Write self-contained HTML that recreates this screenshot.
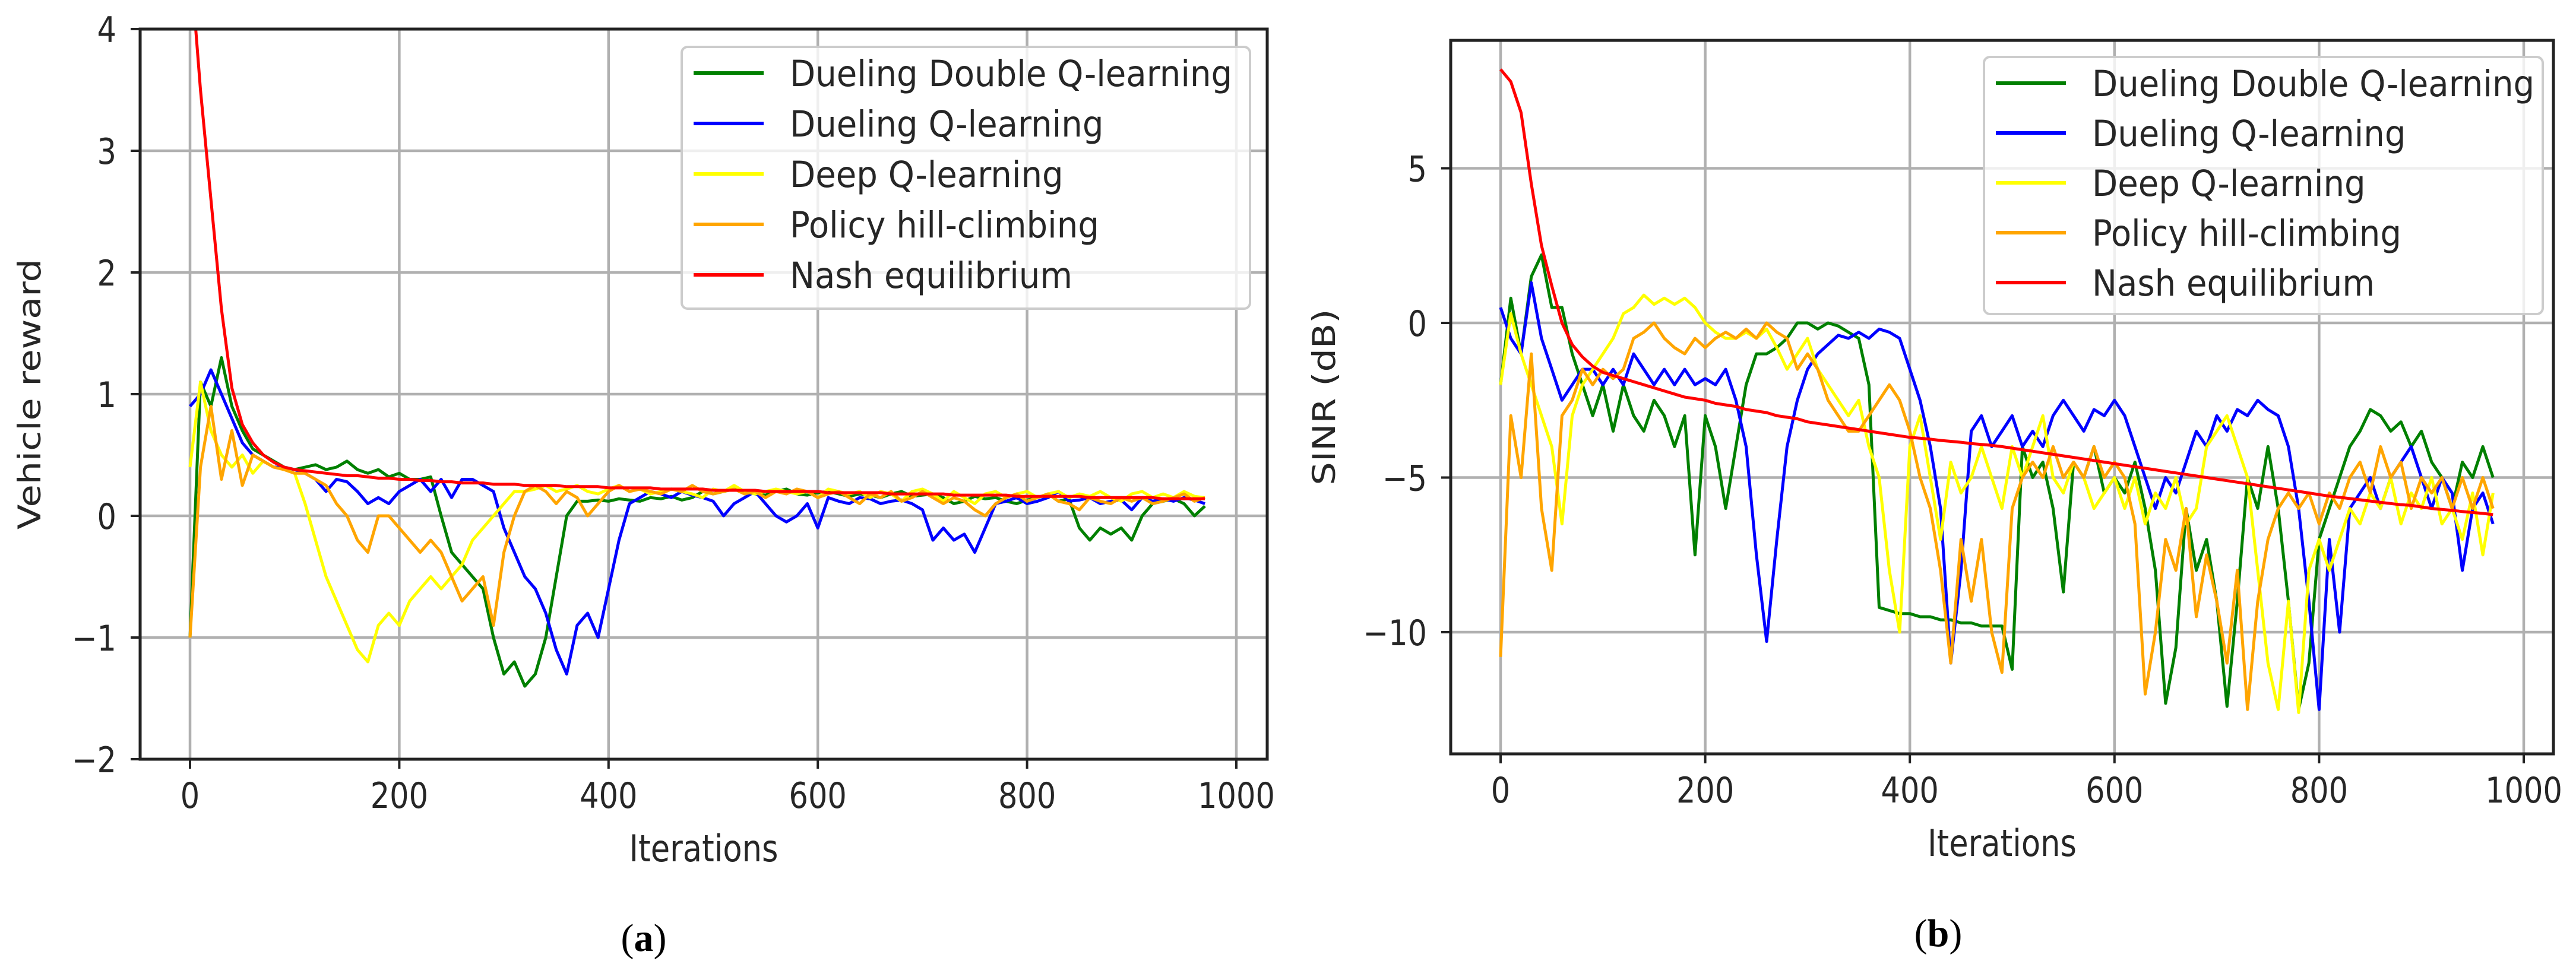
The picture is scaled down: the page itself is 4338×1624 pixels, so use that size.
<!DOCTYPE html>
<html><head><meta charset="utf-8"><style>
html,body{margin:0;padding:0;background:#fff}
svg{display:block}
text{font-family:"DejaVu Sans","Liberation Sans",sans-serif;fill:#262626}
</style></head><body>
<svg id="fig" width="4338" height="1624" viewBox="0 0 4338 1624" xmlns="http://www.w3.org/2000/svg">
<text x="1084" y="1602" text-anchor="middle" style="font-family:'Liberation Serif',serif;font-size:66px;fill:#000">(<tspan font-weight="bold">a</tspan>)</text>
<text x="3264" y="1594" text-anchor="middle" style="font-family:'Liberation Serif',serif;font-size:66px;fill:#000">(<tspan font-weight="bold">b</tspan>)</text>
</svg>
<script>
const iterations = [];
for (let i = 0; i < 98; i++) iterations.push(i * 10);
const seriesNames = ["Dueling Double Q-learning","Dueling Q-learning","Deep Q-learning","Policy hill-climbing","Nash equilibrium"];
const leftYTicks = [-2,-1,0,1,2,3,4];
const rightYTicks = [-10,-5,0,5];
const xTicks = [0,200,400,600,800,1000];

// Chart (a): Vehicle reward
const rewardDDQ = [-1.0,1.1,0.9,1.3,0.9,0.7,0.55,0.5,0.45,0.4,0.38,0.4,0.42,0.38,0.4,0.45,0.38,0.35,0.38,0.32,0.35,0.3,0.3,0.32,0.0,-0.3,-0.4,-0.5,-0.6,-1.0,-1.3,-1.2,-1.4,-1.3,-1.0,-0.5,0.0,0.12,0.12,0.13,0.12,0.14,0.13,0.12,0.15,0.14,0.16,0.13,0.15,0.2,0.18,0.2,0.22,0.2,0.18,0.17,0.2,0.22,0.18,0.17,0.19,0.2,0.18,0.16,0.18,0.17,0.15,0.18,0.2,0.16,0.17,0.18,0.15,0.1,0.12,0.16,0.14,0.15,0.12,0.1,0.13,0.15,0.18,0.12,0.14,-0.1,-0.2,-0.1,-0.15,-0.1,-0.2,0.0,0.1,0.12,0.14,0.1,0.0,0.08];
const rewardDQ = [0.9,1.0,1.2,1.0,0.8,0.6,0.5,0.45,0.4,0.4,0.38,0.35,0.3,0.2,0.3,0.28,0.2,0.1,0.15,0.1,0.2,0.25,0.3,0.2,0.3,0.15,0.3,0.3,0.25,0.2,-0.1,-0.3,-0.5,-0.6,-0.8,-1.1,-1.3,-0.9,-0.8,-1.0,-0.6,-0.2,0.1,0.15,0.2,0.18,0.15,0.2,0.17,0.15,0.12,0.0,0.1,0.15,0.2,0.1,0.0,-0.05,0.0,0.1,-0.1,0.15,0.12,0.1,0.15,0.14,0.1,0.12,0.13,0.1,0.05,-0.2,-0.1,-0.2,-0.15,-0.3,-0.1,0.1,0.12,0.15,0.1,0.12,0.15,0.2,0.12,0.13,0.15,0.1,0.12,0.13,0.05,0.15,0.12,0.14,0.12,0.15,0.13,0.1];
const rewardDQL = [0.4,1.1,0.7,0.5,0.4,0.5,0.35,0.45,0.4,0.38,0.35,0.1,-0.2,-0.5,-0.7,-0.9,-1.1,-1.2,-0.9,-0.8,-0.9,-0.7,-0.6,-0.5,-0.6,-0.5,-0.4,-0.2,-0.1,0.0,0.1,0.2,0.2,0.22,0.25,0.2,0.22,0.25,0.2,0.18,0.22,0.25,0.2,0.22,0.18,0.2,0.22,0.2,0.18,0.15,0.22,0.2,0.25,0.2,0.18,0.2,0.22,0.2,0.18,0.2,0.15,0.22,0.2,0.18,0.2,0.15,0.2,0.18,0.12,0.2,0.22,0.18,0.12,0.2,0.15,0.1,0.18,0.2,0.15,0.18,0.2,0.15,0.18,0.2,0.15,0.18,0.16,0.2,0.15,0.12,0.18,0.2,0.15,0.18,0.15,0.2,0.16,0.15];
const rewardPHC = [-1.0,0.4,0.9,0.3,0.7,0.25,0.5,0.45,0.4,0.38,0.35,0.35,0.3,0.25,0.1,0.0,-0.2,-0.3,0.0,0.0,-0.1,-0.2,-0.3,-0.2,-0.3,-0.5,-0.7,-0.6,-0.5,-0.9,-0.3,0.0,0.2,0.25,0.2,0.1,0.2,0.15,0.0,0.1,0.2,0.25,0.2,0.22,0.2,0.18,0.22,0.2,0.25,0.2,0.18,0.2,0.22,0.18,0.2,0.15,0.2,0.18,0.22,0.2,0.15,0.18,0.2,0.15,0.1,0.18,0.15,0.2,0.12,0.15,0.2,0.15,0.1,0.15,0.12,0.05,0.0,0.1,0.15,0.18,0.12,0.15,0.18,0.12,0.1,0.05,0.15,0.12,0.1,0.15,0.12,0.15,0.1,0.12,0.15,0.18,0.12,0.15];
const rewardNash = [4.6,3.5,2.6,1.7,1.05,0.75,0.6,0.5,0.44,0.4,0.38,0.37,0.36,0.35,0.34,0.33,0.33,0.32,0.31,0.31,0.3,0.3,0.29,0.29,0.28,0.28,0.27,0.27,0.27,0.26,0.26,0.26,0.25,0.25,0.25,0.25,0.24,0.24,0.24,0.24,0.23,0.23,0.23,0.23,0.23,0.22,0.22,0.22,0.22,0.22,0.21,0.21,0.21,0.21,0.21,0.2,0.2,0.2,0.2,0.2,0.2,0.19,0.19,0.19,0.19,0.19,0.19,0.18,0.18,0.18,0.18,0.18,0.18,0.17,0.17,0.17,0.17,0.17,0.17,0.16,0.16,0.16,0.16,0.16,0.16,0.16,0.15,0.15,0.15,0.15,0.15,0.15,0.15,0.14,0.14,0.14,0.14,0.14];

// Chart (b): SINR (dB)
const sinrDDQ = [-2,0.8,-1,1.5,2.2,0.5,0.5,-1,-2,-3,-2,-3.5,-2,-3,-3.5,-2.5,-3,-4,-3,-7.5,-3,-4,-6,-4,-2,-1,-1,-0.8,-0.5,0,0,-0.2,0,-0.1,-0.3,-0.5,-2,-9.2,-9.3,-9.4,-9.4,-9.5,-9.5,-9.6,-9.6,-9.7,-9.7,-9.8,-9.8,-9.8,-11.2,-4,-5,-4.5,-6,-8.7,-4.5,-5,-4,-5.5,-5,-5.5,-4.5,-6,-8,-12.3,-10.5,-6,-8,-7,-9,-12.4,-9,-5,-6,-4,-6,-9,-12.5,-11,-7,-6,-5,-4,-3.5,-2.8,-3,-3.5,-3.2,-4,-3.5,-4.5,-5,-6,-4.5,-5,-4,-5];
const sinrDQ = [0.5,-0.5,-1,1.3,-0.5,-1.5,-2.5,-2,-1.5,-1.5,-2,-1.5,-2,-1,-1.5,-2,-1.5,-2,-1.5,-2,-1.8,-2,-1.5,-2.5,-4,-7.5,-10.3,-7,-4,-2.5,-1.5,-1,-0.7,-0.4,-0.5,-0.3,-0.5,-0.2,-0.3,-0.5,-1.5,-2.5,-4,-6,-11,-8,-3.5,-3,-4,-3.5,-3,-4,-3.5,-4,-3,-2.5,-3,-3.5,-2.8,-3,-2.5,-3,-4,-5,-6,-5,-5.5,-4.5,-3.5,-4,-3,-3.5,-2.8,-3,-2.5,-2.8,-3,-4,-6,-9,-12.5,-7,-10,-6,-5.5,-5,-6,-5,-4.5,-4,-5,-6,-5,-5.5,-8,-6,-5.5,-6.5];
const sinrDQL = [-2,0.3,-1,-2,-3,-4,-6.5,-3,-2,-1.5,-1,-0.5,0.3,0.5,0.9,0.6,0.8,0.6,0.8,0.5,0,-0.3,-0.5,-0.5,-0.3,-0.5,-0.2,-0.8,-1.5,-1,-0.5,-1.5,-2,-2.5,-3,-2.5,-4,-5,-8,-10,-4,-3,-5,-7,-4.5,-5.5,-5,-4,-5,-6,-4,-5,-4,-3,-5,-5.5,-4.5,-5,-6,-5.5,-5,-6,-5,-6.5,-5.5,-6,-5,-6.5,-6,-4,-3.5,-3,-4,-5,-8,-11,-12.5,-9,-12.6,-8,-7,-8,-7,-6,-6.5,-5.5,-6,-5,-6.5,-5.5,-6,-5,-6.5,-6,-7,-5.5,-7.5,-5.5];
const sinrPHC = [-10.8,-3,-5,-1,-6,-8,-3,-2.5,-1.5,-2,-1.5,-1.8,-1.5,-0.5,-0.3,0,-0.5,-0.8,-1,-0.5,-0.8,-0.5,-0.3,-0.5,-0.2,-0.5,0,-0.3,-0.5,-1.5,-1,-1.5,-2.5,-3,-3.5,-3.5,-3,-2.5,-2,-2.5,-3.5,-5,-6,-8,-11,-7,-9,-7,-10,-11.3,-6,-5,-4.5,-5,-4,-5,-4.5,-5,-4,-5,-4.5,-5,-6.5,-12,-10,-7,-8,-6,-9.5,-7.5,-9,-11,-8,-12.5,-9,-7,-6,-5.5,-6,-5.5,-6.5,-5.5,-6,-5,-4.5,-5.5,-4,-5,-4.5,-6,-5,-5.5,-5,-6,-5,-6,-5,-6];
const sinrNash = [8.2,7.8,6.8,4.5,2.5,1.2,0.0,-0.7,-1.1,-1.4,-1.6,-1.7,-1.8,-1.9,-2.0,-2.1,-2.2,-2.3,-2.4,-2.45,-2.5,-2.6,-2.65,-2.7,-2.8,-2.85,-2.9,-3.0,-3.05,-3.1,-3.2,-3.25,-3.3,-3.35,-3.4,-3.45,-3.5,-3.55,-3.6,-3.65,-3.7,-3.73,-3.76,-3.8,-3.83,-3.86,-3.9,-3.93,-3.96,-4.0,-4.05,-4.1,-4.15,-4.2,-4.25,-4.3,-4.35,-4.4,-4.45,-4.5,-4.55,-4.6,-4.65,-4.7,-4.75,-4.8,-4.85,-4.9,-4.95,-5.0,-5.05,-5.1,-5.15,-5.2,-5.25,-5.3,-5.35,-5.4,-5.45,-5.5,-5.55,-5.6,-5.64,-5.68,-5.72,-5.76,-5.8,-5.84,-5.88,-5.9,-5.95,-6.0,-6.03,-6.06,-6.1,-6.13,-6.16,-6.2];

const colors = ["#008000","#0000ff","#ffff00","#ffa500","#ff0000"];
const NS = "http://www.w3.org/2000/svg";
const svg = document.getElementById('fig');

function mk(tag, attrs, parent){
  const e = document.createElementNS(NS, tag);
  for (const k in attrs) e.setAttribute(k, attrs[k]);
  (parent||svg).appendChild(e);
  return e;
}

function drawChart(cfg){
  const g = mk('g', {});
  
  
  const xs = v => cfg.x0 + v * cfg.kx;
  const ys = v => cfg.y0 - v * cfg.ky;
  const clipId = cfg.name + '-clip';
  const defs = mk('defs', {}, g);
  const cp = mk('clipPath', {id: clipId}, defs);
  mk('rect', {x: cfg.L, y: cfg.T, width: cfg.R - cfg.L, height: cfg.B - cfg.T}, cp);
  // grid
  xTicks.forEach(t => {
    const l = mk('line', {x1: xs(t), x2: xs(t), y1: cfg.T, y2: cfg.B, stroke: '#b0b0b0', 'stroke-width': 4.5}, g);
    
    
  });
  cfg.yTicks.forEach(t => {
    const l = mk('line', {x1: cfg.L, x2: cfg.R, y1: ys(t), y2: ys(t), stroke: '#b0b0b0', 'stroke-width': 4.5}, g);
    
    
  });
  // series
  const sg = mk('g', {'clip-path': 'url(#' + clipId + ')'}, g);
  cfg.series.forEach((vals, si) => {
    let d = '';
    vals.forEach((v, i) => { d += (i ? 'L' : 'M') + xs(iterations[i]).toFixed(1) + ',' + ys(v).toFixed(1); });
    const p = mk('path', {d: d, fill: 'none', stroke: colors[si], 'stroke-width': 5, 'stroke-linejoin': 'round'}, sg);
    
    
  });
  // frame
  const fr = mk('rect', {x: cfg.L, y: cfg.T, width: cfg.R - cfg.L, height: cfg.B - cfg.T, fill: 'none', stroke: '#222', 'stroke-width': 5}, g);
  
  
  // ticks + labels
  xTicks.forEach(t => {
    mk('line', {x1: xs(t), x2: xs(t), y1: cfg.B, y2: cfg.B + 16, stroke: '#222', 'stroke-width': 4}, g);
    const tx = mk('text', {transform: 'translate(' + xs(t) + ',' + (cfg.B + 82) + ') scale(0.85,1)', 'text-anchor': 'middle', 'font-size': 60}, g);
    tx.textContent = t;
    
    
  });
  cfg.yTicks.forEach(t => {
    mk('line', {x1: cfg.L - 16, x2: cfg.L, y1: ys(t), y2: ys(t), stroke: '#222', 'stroke-width': 4}, g);
    const tx = mk('text', {transform: 'translate(' + (cfg.L - 40) + ',' + (ys(t) + 22) + ') scale(0.85,1)', 'text-anchor': 'end', 'font-size': 60}, g);
    tx.textContent = t < 0 ? '\u2212' + Math.abs(t) : String(t);
    
    
  });
  const xl = mk('text', {transform: 'translate(' + ((cfg.L + cfg.R) / 2) + ',' + (cfg.B + 172) + ') scale(0.85,1)', 'text-anchor': 'middle', 'font-size': 62}, g);
  xl.textContent = 'Iterations';
  
  
  const yl = mk('text', {transform: 'translate(' + cfg.ylx + ',' + ((cfg.T + cfg.B) / 2) + ') rotate(-90) scale(1,0.85)', 'text-anchor': 'middle', 'font-size': 62}, g);
  yl.textContent = cfg.ylabel;
  
  
  // legend
  const lg = mk('g', {}, g);
  
  
  mk('rect', {x: cfg.lx, y: cfg.ly, width: cfg.lw, height: cfg.lh, rx: 10, fill: '#fff', 'fill-opacity': 0.8, stroke: '#cccccc', 'stroke-width': 4}, lg);
  seriesNames.forEach((n, i) => {
    const cy = cfg.ly + 44 + i * cfg.lstep;
    const ln = mk('line', {x1: cfg.lx + 20, x2: cfg.lx + 138, y1: cy, y2: cy, stroke: colors[i], 'stroke-width': 6}, lg);
    
    
    const tx = mk('text', {transform: 'translate(' + (cfg.lx + 182) + ',' + (cy + 22) + ') scale(0.92,1)', 'font-size': 61}, lg);
    tx.textContent = n;
    
    
  });
}

drawChart({name: 'chart-a-vehicle-reward', L: 236, R: 2134, T: 49, B: 1279, x0: 320, kx: 1.762, y0: 869, ky: 205,
  yTicks: leftYTicks, ylabel: 'Vehicle reward', ylx: 68,
  series: [rewardDDQ, rewardDQ, rewardDQL, rewardPHC, rewardNash],
  lx: 1148, ly: 79, lw: 957, lh: 441, lstep: 85});
drawChart({name: 'chart-b-sinr', L: 2443, R: 4300, T: 68, B: 1270, x0: 2527, kx: 1.723, y0: 544, ky: 52.1,
  yTicks: rightYTicks, ylabel: 'SINR (dB)', ylx: 2248,
  series: [sinrDDQ, sinrDQ, sinrDQL, sinrPHC, sinrNash],
  lx: 3341, ly: 96, lw: 941, lh: 433, lstep: 84});
</script>
</body></html>
